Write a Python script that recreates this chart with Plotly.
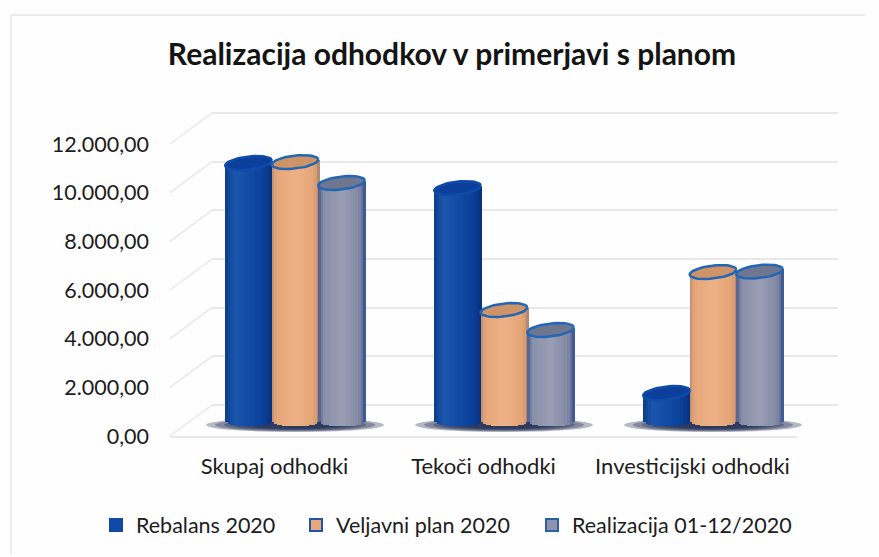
import math
import plotly.graph_objects as go

categories = ["Skupaj odhodki", "Tekoči odhodki", "Investicijski odhodki"]
series_names = ["Rebalans 2020", "Veljavni plan 2020", "Realizacija 01-12/2020"]
rebalans = [10560, 9530, 1110]
veljavni = [10600, 4520, 6080]
realizacija = [9740, 3700, 6100]
tick_values = [0, 2000, 4000, 6000, 8000, 10000, 12000]
tick_labels = ["0,00", "2.000,00", "4.000,00", "6.000,00", "8.000,00", "10.000,00", "12.000,00"]
title_text = "Realizacija odhodkov v primerjavi s planom"

W, H = 879, 557
FONT = "Lato, 'Open Sans', sans-serif"
TEXT = "#1c1c1c"
fx = lambda p: p / W
fy = lambda p: 1 - p / H
PX_PER_VAL = 292 / 12000
GROUP_PX = 209
xcats = list(range(len(categories)))
vpx = lambda px: px / PX_PER_VAL

series = [
    dict(name=series_names[0], vals=rebalans, off=-46.5 / GROUP_PX, cap="#0C3F9C", rim="#0F4BA8", legend="#0F49A6", legline="#0F49A6",
         legendref="legend", stops=[(-1, "#0C3D8C"), (-0.6, "#1C56AC"), (0, "#124CA6"), (0.6, "#0B4199"), (1, "#082F7A")]),
    dict(name=series_names[1], vals=veljavni, off=0.0, cap="#CE9367", rim="#2366B6", legend="#E8A87A", legline="#1C55B0",
         legendref="legend2", stops=[(-1, "#B98C70"), (-0.8, "#E6A77A"), (0, "#EFB287"), (0.8, "#E3A475"), (1, "#A07E6C")]),
    dict(name=series_names[2], vals=realizacija, off=46.5 / GROUP_PX, cap="#6F7690", rim="#2366B6", legend="#8E94AE", legline="#2A5FA8",
         legendref="legend3", stops=[(-1, "#4A5A8C"), (-0.75, "#8A90AA"), (0, "#9A9FB5"), (0.7, "#8489A6"), (0.9, "#5A6590"), (1, "#1F4FA0")]),
]

def hex_rgb(c):
    return tuple(int(c[i:i + 2], 16) for i in (1, 3, 5))

def shade(stops, u):
    for (u0, c0), (u1, c1) in zip(stops, stops[1:]):
        if u <= u1:
            t = (u - u0) / (u1 - u0)
            a, b = hex_rgb(c0), hex_rgb(c1)
            return "rgb(%d,%d,%d)" % tuple(a[i] + (b[i] - a[i]) * t for i in range(3))
    return stops[-1][1]

BAR_W = 48 / GROUP_PX
A = BAR_W / 2
B = vpx(6.5)
TILT = vpx(2.5)
N = 18

fig = go.Figure()
fig.add_trace(go.Scatter(x=xcats, y=[0, 0, 0], mode="markers", marker=dict(opacity=0), xaxis="x", yaxis="y",
                         showlegend=False, hoverinfo="skip"))
for s in series:
    for k in range(N):
        u = -1 + (2 * k + 1) / N
        base = -B * math.sqrt(max(0, 1 - u * u))
        left = s["off"] + A * (-1 + 2 * k / N)
        fig.add_trace(go.Bar(
            x=xcats, y=[v + TILT * u - base for v in s["vals"]], base=[base] * 3,
            offset=left, width=2 * A / N + 0.002,
            marker=dict(color=shade(s["stops"], u), line=dict(width=0)),
            xaxis="x2", yaxis="y2", showlegend=False, hoverinfo="skip"))
for s in series:
    for i, v in zip(xcats, s["vals"]):
        us = [math.cos(2 * math.pi * t / 48) for t in range(49)]
        ws = [math.sin(2 * math.pi * t / 48) for t in range(49)]
        fig.add_trace(go.Scatter(
            x=[i + s["off"] + A * 0.97 * a for a in us],
            y=[v + B * b + TILT * a for a, b in zip(us, ws)],
            mode="lines", fill="toself", fillcolor=s["cap"], line=dict(color=s["rim"], width=2.5),
            xaxis="x2", yaxis="y2", showlegend=False, hoverinfo="skip"))
for s in series:
    fig.add_trace(go.Bar(x=[None], y=[None], name=s["name"], xaxis="x2", yaxis="y2", legend=s["legendref"],
                         showlegend=True,
                         marker=dict(color=s["legend"], line=dict(color=s["legline"], width=2))))
fig.add_trace(go.Scatter(x=xcats, y=[0, 0, 0], mode="markers", marker=dict(opacity=0), xaxis="x3", yaxis="y3",
                         showlegend=False, hoverinfo="skip"))

shapes = [
    dict(type="line", xref="paper", yref="paper", x0=fx(11), x1=fx(865), y0=fy(15), y1=fy(15),
         line=dict(color="#E9E9E9", width=2), layer="below"),
    dict(type="line", xref="paper", yref="paper", x0=fx(11), x1=fx(11), y0=fy(15), y1=fy(555),
         line=dict(color="#EDEDED", width=2), layer="below"),
]
for v in tick_values:
    shapes.append(dict(type="line", xref="paper", yref="paper",
                       x0=fx(170), x1=fx(212), y0=fy(436 - v * PX_PER_VAL), y1=fy(405 - v * PX_PER_VAL),
                       line=dict(color="#E8E8E8", width=1.5), layer="below"))
for i in xcats:
    for k in range(6):
        f = 1 - k * 0.1
        shapes.append(dict(type="circle", xref="x2", yref="y2", layer="below",
                           x0=i - 0.425 * f, x1=i + 0.425 * f, y0=vpx(-5) - vpx(7) * f, y1=vpx(-5) + vpx(7) * f,
                           fillcolor="#18264F", opacity=0.32, line=dict(width=0)))

def legend_at(px):
    return dict(orientation="h", x=fx(px), xanchor="left", y=fy(525), yanchor="middle", itemwidth=30,
                font=dict(size=21.5, family=FONT, color=TEXT), bgcolor="rgba(0,0,0,0)")

xbase = dict(range=[-0.5, 2.5], tickvals=xcats, showgrid=False, zeroline=False, fixedrange=True)
PAD = 400  # back-wall axis is padded so the 0 and 12000 lines are drawn
fig.update_layout(
    width=W, height=H, autosize=False, margin=dict(l=0, r=0, t=0, b=0, autoexpand=False),
    paper_bgcolor="#FEFEFE", plot_bgcolor="rgba(0,0,0,0)", barmode="overlay", bargap=0,
    font=dict(family=FONT, color=TEXT),
    title=dict(text="<b>" + title_text + "</b>", x=fx(452), xanchor="center", y=fy(54), yanchor="middle",
               font=dict(size=30, family=FONT, color="#141414")),
    xaxis=dict(xbase, domain=[fx(212), fx(838)], showticklabels=False, ticks="", showline=False),
    yaxis=dict(domain=[fy(405 + PAD * PX_PER_VAL), fy(113 - PAD * PX_PER_VAL)], range=[-PAD, 12000 + PAD],
               tickvals=tick_values, showticklabels=False, ticks="",
               showgrid=True, gridcolor="#E8E8E8", gridwidth=1.5, zeroline=False, showline=False, anchor="x"),
    xaxis2=dict(xbase, domain=[fx(190.5), fx(817.5)], showticklabels=False, ticks="", showline=False, anchor="y2"),
    yaxis2=dict(domain=[fy(444), fy(128)], range=[-vpx(24), 12000], showticklabels=False, ticks="",
                showgrid=False, zeroline=False, showline=False, anchor="x2"),
    xaxis3=dict(xbase, domain=[fx(170), fx(797)], ticktext=categories, ticks="", ticklabelstandoff=10,
                showline=True, linecolor="#E8E8E8", linewidth=1.5, anchor="y3",
                tickfont=dict(size=22, family=FONT, color=TEXT)),
    yaxis3=dict(domain=[fy(436), fy(144)], range=[0, 12000], tickvals=tick_values, ticktext=tick_labels, ticks="",
                ticklabelstandoff=20, showgrid=False, zeroline=False, showline=False, anchor="x3",
                tickfont=dict(size=21.5, family=FONT, color=TEXT)),
    legend=legend_at(96), legend2=legend_at(296), legend3=legend_at(532),
    shapes=shapes,
)
fig.write_html("out.html", config=dict(displayModeBar=False),
               post_script="document.body.style.margin='0';document.body.style.overflow='hidden';")
